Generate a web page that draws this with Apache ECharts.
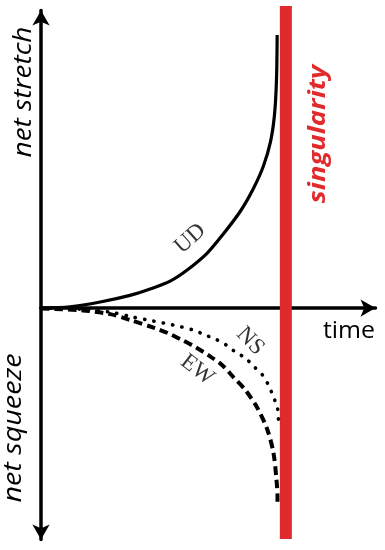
<!DOCTYPE html>
<html><head><meta charset="utf-8">
<script src="https://cdn.jsdelivr.net/npm/echarts@6/dist/echarts.min.js"></script>
<style>html,body{margin:0;padding:0;background:#fff}#c{width:385px;height:550px}</style>
</head><body><div id="c"></div>
<script>
// time (arbitrary units) and value (net stretch > 0, net squeeze < 0)
const udX = [0, 0.87, 1.77, 2.66, 3.26, 3.86, 4.37, 4.97, 5.45, 5.96, 6.35, 6.65, 6.86, 6.98, 7.04, 7.06];
const udY = [0, 0.05, 0.23, 0.48, 0.72, 1.02, 1.44, 2.08, 2.80, 3.66, 4.52, 5.37, 6.28, 7.30, 8.62, 10.32];
const nsX = [0, 1.17, 2.07, 2.75, 3.35, 3.95, 4.55, 4.91, 5.21, 5.54, 5.81, 6.11, 6.35, 6.62, 6.80, 6.95, 7.07, 7.10];
const nsY = [0, -0.04, -0.15, -0.34, -0.49, -0.64, -0.83, -1.02, -1.17, -1.40, -1.66, -1.89, -2.19, -2.53, -2.91, -3.36, -3.78, -4.23];
const ewX = [0, 1.17, 2.07, 2.66, 3.41, 3.80, 4.22, 4.61, 5.00, 5.42, 5.75, 6.11, 6.47, 6.77, 6.95, 7.04, 7.07, 7.07];
const ewY = [-0.02, -0.08, -0.23, -0.45, -0.76, -0.95, -1.21, -1.47, -1.78, -2.16, -2.61, -3.10, -3.78, -4.61, -5.48, -6.50, -7.14, -7.52];
const singularityX = 7.32;
const singularityY = [11.42, -8.73];
const curveNames = ['UD', 'NS', 'EW'];
const labelPos = [[4.46, 2.62], [6.26, -1.25], [4.67, -2.34]];
const labelRot = [42, -46, -38];

const zip = (xs, ys) => xs.map((x, i) => [x, ys[i]]);
const chart = echarts.init(document.getElementById('c'), null, {renderer: 'canvas'});
const axisStyle = {color: '#000', width: 3.5};
const series = [
  {type: 'line', data: singularityY.map(y => [singularityX, y]), symbol: 'none', clip: false,
   lineStyle: {color: '#e12a2b', width: 12, cap: 'butt'}, z: 3},
  {type: 'line', data: zip(udX, udY), smooth: 0.3, symbol: 'none', clip: false,
   lineStyle: {color: '#000', width: 3.2}, z: 4},
  {type: 'line', data: zip(nsX, nsY), smooth: 0.3, symbol: 'none', clip: false,
   lineStyle: {color: '#000', width: 3.6, type: [0.3, 9.2], cap: 'round'}, z: 4},
  {type: 'line', data: zip(ewX, ewY), smooth: 0.3, symbol: 'none', clip: false,
   lineStyle: {color: '#000', width: 4, type: [8.5, 5]}, z: 4}
];
curveNames.forEach((n, i) => {
  series.push({type: 'scatter', data: [labelPos[i]], symbolSize: 0, z: 5,
    label: {show: true, position: 'inside', formatter: n, rotate: labelRot[i],
      fontFamily: 'Liberation Serif', fontSize: 23, color: '#000'}});
});
chart.setOption({
  animation: false,
  grid: {left: 41, right: 9.5, top: 10.5, bottom: 10.5},
  xAxis: {type: 'value', min: 0, max: 10,
    axisLine: {onZero: true, lineStyle: axisStyle, symbol: ['none', 'arrow'], symbolSize: [13, 15]},
    axisTick: {show: false}, axisLabel: {show: false}, splitLine: {show: false}},
  yAxis: {type: 'value', min: -8.75, max: 11.25,
    axisLine: {onZero: true, lineStyle: axisStyle, symbol: ['arrow', 'arrow'], symbolSize: [13, 15]},
    axisTick: {show: false}, axisLabel: {show: false}, splitLine: {show: false}},
  graphic: [
    {type: 'text', x: 349, y: 331, scaleX: 1.08, style: {text: 'time', font: '23px "Open Sans"', fill: '#000', align: 'center', verticalAlign: 'middle'}},
    {type: 'text', x: 24, y: 92, rotation: Math.PI / 2, scaleX: 1.12, style: {text: 'net stretch', font: 'italic 25px "Open Sans"', fill: '#000', align: 'center', verticalAlign: 'middle'}},
    {type: 'text', x: 14, y: 428, rotation: Math.PI / 2, scaleX: 1.15, style: {text: 'net squeeze', font: 'italic 25px "Open Sans"', fill: '#000', align: 'center', verticalAlign: 'middle'}},
    {type: 'text', x: 318, y: 134, rotation: Math.PI / 2, scaleX: 1.14, style: {text: 'singularity', font: 'italic bold 24px "Open Sans"', fill: '#e12a2b', align: 'center', verticalAlign: 'middle'}}
  ],
  series: series
});
</script></body></html>
